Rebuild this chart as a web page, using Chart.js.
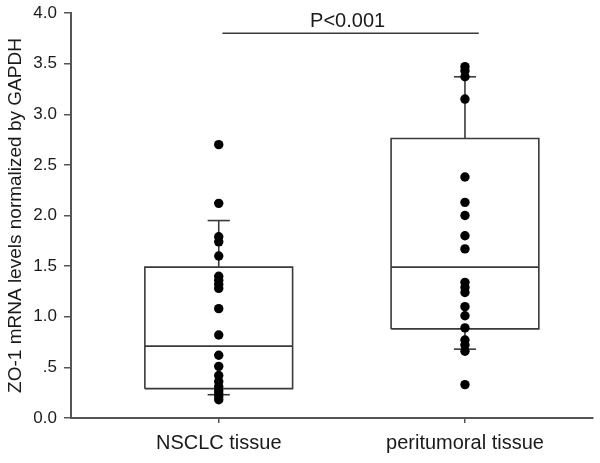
<!DOCTYPE html>
<html>
<head>
<meta charset="utf-8">
<script src="https://cdn.jsdelivr.net/npm/chart.js@4.4.1/dist/chart.umd.min.js"></script>
<style>
  html, body { margin: 0; padding: 0; background: #ffffff; }
  canvas { display: block; }
</style>
</head>
<body>
<canvas id="c" width="600" height="463"></canvas>
<script>
// ---- data ----
const categories = ['NSCLC tissue', 'peritumoral tissue'];
const groupPositions = [1, 2];
const nsclcValues = [2.70, 2.12, 1.79, 1.74, 1.60, 1.40, 1.36, 1.32, 1.28, 1.08, 0.82, 0.62, 0.51, 0.42, 0.36, 0.31, 0.27, 0.24, 0.21, 0.18];
const peritumoralValues = [3.47, 3.43, 3.37, 3.15, 2.38, 2.13, 2.00, 1.80, 1.67, 1.34, 1.29, 1.24, 1.10, 1.01, 0.89, 0.77, 0.72, 0.66, 0.33];
const boxQ1 = [0.29, 0.88];
const boxMedian = [0.71, 1.49];
const boxQ3 = [1.49, 2.76];
const whiskerLow = [0.23, 0.68];
const whiskerHigh = [1.95, 3.37];
const yTickValues = [0, 0.5, 1.0, 1.5, 2.0, 2.5, 3.0, 3.5, 4.0];
const yTickLabels = ['0.0', '.5', '1.0', '1.5', '2.0', '2.5', '3.0', '3.5', '4.0'];
const yAxisTitle = 'ZO-1 mRNA levels normalized by GAPDH';
const pValueText = 'P<0.001';
const sigLineX = [1.015, 2.056];
const sigLineY = 3.8;

// ---- style constants ----
const BOX_HALF = 0.30;
const CAP_HALF = 0.045;
const LINE_COLOR = '#3a3a3a';
const FONT = '"Liberation Sans", Arial, Helvetica, sans-serif';

const groupValues = [nsclcValues, peritumoralValues];

function lineDs(points) {
  return {
    type: 'scatter', data: points, showLine: true, fill: false,
    borderColor: LINE_COLOR, borderWidth: 1.6, pointRadius: 0, pointHoverRadius: 0,
    borderJoinStyle: 'miter', order: 1
  };
}

const datasets = [];
// points
groupValues.forEach((vals, i) => {
  datasets.push({
    type: 'scatter',
    data: vals.map(v => ({ x: groupPositions[i], y: v })),
    backgroundColor: '#000000', borderWidth: 0, pointRadius: 4.7, order: 0
  });
});
// boxes, medians, whiskers
groupPositions.forEach((x, i) => {
  datasets.push(lineDs([
    { x: x - BOX_HALF, y: boxQ1[i] }, { x: x + BOX_HALF, y: boxQ1[i] },
    { x: x + BOX_HALF, y: boxQ3[i] }, { x: x - BOX_HALF, y: boxQ3[i] },
    { x: x - BOX_HALF, y: boxQ1[i] }
  ]));
  datasets.push(lineDs([{ x: x - BOX_HALF, y: boxMedian[i] }, { x: x + BOX_HALF, y: boxMedian[i] }]));
  datasets.push(lineDs([{ x: x, y: boxQ3[i] }, { x: x, y: whiskerHigh[i] }]));
  datasets.push(lineDs([{ x: x - CAP_HALF, y: whiskerHigh[i] }, { x: x + CAP_HALF, y: whiskerHigh[i] }]));
  datasets.push(lineDs([{ x: x, y: boxQ1[i] }, { x: x, y: whiskerLow[i] }]));
  datasets.push(lineDs([{ x: x - CAP_HALF, y: whiskerLow[i] }, { x: x + CAP_HALF, y: whiskerLow[i] }]));
});
// significance bar
datasets.push(lineDs([{ x: sigLineX[0], y: sigLineY }, { x: sigLineX[1], y: sigLineY }]));

const pTextPlugin = {
  id: 'pText',
  afterDatasetsDraw(chart) {
    const { ctx, scales } = chart;
    const cx = scales.x.getPixelForValue((sigLineX[0] + sigLineX[1]) / 2);
    const cy = scales.y.getPixelForValue(sigLineY);
    ctx.save();
    ctx.fillStyle = '#1a1a1a';
    ctx.font = '20px ' + FONT;
    ctx.textAlign = 'center';
    ctx.textBaseline = 'alphabetic';
    ctx.fillText(pValueText, cx - 3, cy - 6);
    ctx.restore();
  }
};

new Chart(document.getElementById('c'), {
  type: 'scatter',
  data: { datasets },
  options: {
    responsive: false,
    animation: false,
    devicePixelRatio: 1,
    layout: { padding: { top: 13, right: 7, left: 0, bottom: 0 } },
    plugins: { legend: { display: false }, tooltip: { enabled: false } },
    scales: {
      x: {
        type: 'linear', min: 0.4, max: 2.52,
        afterBuildTicks: (s) => { s.ticks = groupPositions.map(v => ({ value: v })); },
        afterFit: (s) => { s.height = 45; s.paddingLeft = 0; s.paddingRight = 0; },
        ticks: {
          autoSkip: false, maxRotation: 0, padding: 8, color: '#1a1a1a',
          font: { size: 20, family: FONT },
          callback: (v) => categories[groupPositions.indexOf(v)]
        },
        grid: { drawOnChartArea: false, drawTicks: true, tickLength: 5, color: '#555555', lineWidth: 1.5 },
        border: { display: true, color: '#555555', width: 2 }
      },
      y: {
        type: 'linear', min: 0, max: 4,
        afterBuildTicks: (s) => { s.ticks = yTickValues.map(v => ({ value: v })); },
        afterFit: (s) => { s.width = 71; s.paddingTop = 0; s.paddingBottom = 0; },
        ticks: {
          autoSkip: false, padding: 7, color: '#1a1a1a',
          font: { size: 17, family: FONT },
          callback: (v) => yTickLabels[yTickValues.indexOf(v)]
        },
        grid: { drawOnChartArea: false, drawTicks: true, tickLength: 7, color: '#555555', lineWidth: 1.5 },
        border: { display: true, color: '#555555', width: 2 },
        title: {
          display: true, text: yAxisTitle, color: '#1a1a1a',
          font: { size: 19, family: FONT }, padding: { top: 4, bottom: 0 }
        }
      }
    }
  },
  plugins: [pTextPlugin]
});
</script>
</body>
</html>
